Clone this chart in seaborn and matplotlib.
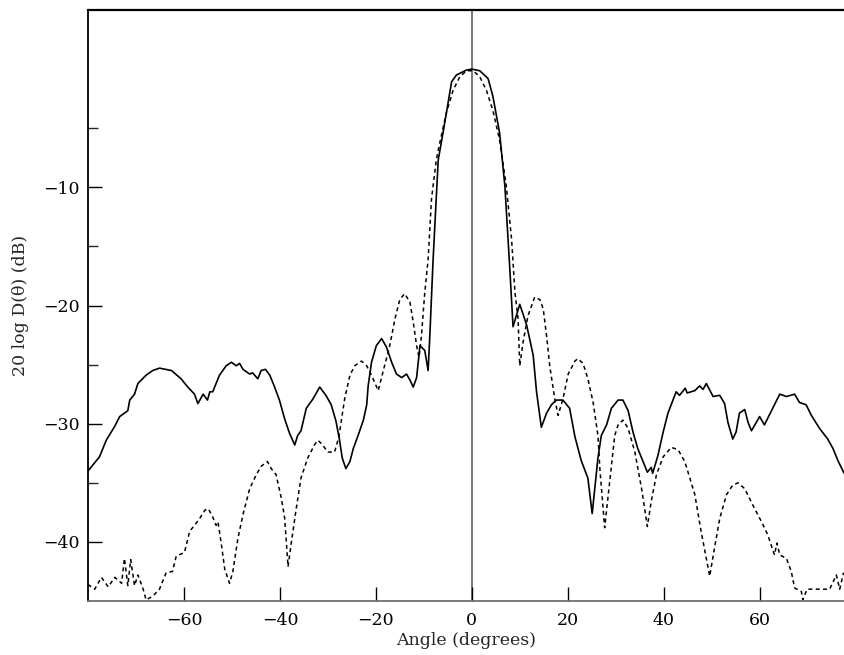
import numpy as np
import pandas as pd
import matplotlib
matplotlib.use('Agg')
import matplotlib.pyplot as plt
import seaborn as sns

# solid curve
solid_angle = [-80, -77.6, -76.2, -74.4, -73.4, -71.7, -71.3, -70.3, -69.6, -67.9, -66.5, -65.1,
               -62.6, -60.6, -59.2, -57.8, -57.1, -56.0, -55.1, -54.6, -54.0, -52.6, -51.2, -50.1,
               -49.1, -48.4, -47.7, -46.3, -45.7, -44.6, -43.9, -43.0, -42.1, -41.1, -40.1, -39.0,
               -38.0, -36.9, -36.3, -35.6, -34.5, -33.1, -31.7, -30.4, -29.3, -28.3, -27.6, -27.0,
               -26.25, -25.4, -24.7, -23.7, -22.6, -21.9, -21.6, -20.9, -19.9, -18.8, -17.8, -16.7,
               -15.7, -14.6, -13.6, -12.9, -12.2, -11.5, -10.8, -9.8, -9.1, -8.75, -8.06, -7.0,
               -6.0, -4.2, -3.2, -1.1, 0, 1.67, 3.4, 4.4, 5.8, 6.9, 7.9, 8.6, 10.0, 11.4, 12.8,
               13.5, 14.5, 15.6, 16.6, 17.6, 19.0, 20.4, 21.5, 22.8, 24.2, 25.1, 26.3, 27.0, 28.1,
               29.1, 30.5, 31.5, 32.6, 33.6, 34.6, 35.7, 36.6, 37.4, 37.7, 38.8, 39.9, 40.9, 42.6,
               43.3, 44.5, 44.9, 46.5, 47.5, 48.2, 48.9, 50.3, 51.7, 52.7, 53.4, 54.4, 55.1, 55.8,
               56.9, 57.6, 58.3, 60.0, 61.0, 63.1, 64.2, 65.6, 67.3, 68.3, 69.7, 70.8, 72.5, 74.2,
               75.3, 76.3, 77.5, 78]
solid_db = [-34.0, -32.8, -31.4, -30.2, -29.4, -28.9, -28.0, -27.5, -26.6, -25.9, -25.5, -25.3,
            -25.5, -26.2, -26.9, -27.5, -28.3, -27.5, -28.0, -27.3, -27.3, -25.9, -25.1, -24.8,
            -25.1, -24.9, -25.4, -25.8, -25.7, -26.2, -25.5, -25.4, -25.9, -26.9, -28.0, -29.6,
            -30.8, -31.8, -31.0, -30.6, -28.7, -27.9, -26.9, -27.6, -28.4, -29.8, -31.3, -32.9,
            -33.8, -33.2, -32.1, -31.0, -29.7, -28.4, -26.8, -24.8, -23.4, -22.8, -23.5, -24.8,
            -25.8, -26.1, -25.8, -26.3, -26.9, -26.1, -23.4, -23.8, -25.5, -22.6, -16.1, -7.7,
            -5.4, -1.07, -0.5, -0.08, 0.0, -0.14, -0.8, -2.3, -5.4, -9.9, -16.7, -21.8, -19.9,
            -21.6, -24.2, -27.3, -30.3, -29.1, -28.4, -28.0, -28.0, -28.7, -31.1, -33.1, -34.6,
            -37.6, -32.9, -31.0, -30.1, -28.7, -28.0, -28.0, -28.9, -30.7, -32.1, -33.2, -34.1,
            -33.7, -34.2, -32.7, -30.7, -29.1, -27.3, -27.6, -27.0, -27.4, -27.2, -26.8, -27.1,
            -26.6, -27.7, -27.6, -28.3, -29.9, -31.3, -30.7, -29.1, -28.8, -29.9, -30.6, -29.4,
            -30.1, -28.4, -27.5, -27.7, -27.5, -28.2, -28.4, -29.3, -30.4, -31.3, -32.1, -33.1,
            -34.1, -34.4]

# dashed curve
dash_angle = [-80, -78.6, -77.2, -75.8, -74.4, -73.0, -72.4, -71.7, -71.1, -70.3, -69.6, -68.5,
              -67.9, -66.5, -65.1, -63.7, -62.4, -61.6, -59.9, -58.8, -57.8, -56.7, -55.6, -54.9,
              -54.0, -53.3, -52.9, -52.2, -51.5, -50.5, -49.8, -48.75, -47.7, -46.3, -44.9, -43.9,
              -42.6, -41.8, -40.8, -39.7, -39.0, -38.3, -37.6, -36.6, -35.6, -34.2, -32.8, -32.1,
              -31.3, -30.0, -28.6, -27.7, -26.9, -26.5, -25.4, -24.4, -23.0, -21.9, -20.9, -19.5,
              -18.5, -17.1, -16.0, -15.0, -14.0, -12.9, -12.2, -11.5, -11.0, -10.5, -9.8, -9.1,
              -8.4, -7.4, -6.7, -5.3, -3.9, -2.5, -1.1, 0.3, 1.67, 3.06, 4.4, 5.8, 7.2, 8.3, 9.0,
              9.65, 10.0, 10.7, 11.7, 13.1, 14.2, 14.9, 15.6, 16.25, 17.3, 18.0, 19.0, 20.1, 21.5,
              22.1, 23.2, 24.2, 25.3, 26.3, 26.7, 27.7, 28.75, 29.8, 30.5, 31.5, 32.6, 34.0, 35.4,
              36.6, 37.4, 38.5, 39.9, 41.6, 43.0, 44.4, 46.5, 47.8, 49.6, 50.6, 51.7, 53.1, 54.4,
              55.5, 56.9, 58.6, 60.4, 61.7, 63.1, 63.6, 64.2, 65.6, 66.6, 67.3, 68.7, 69.0, 69.9,
              72.5, 74.6, 76.0, 76.7, 77.5]
dash_db = [-43.6, -44.0, -43.0, -43.8, -43.0, -43.5, -41.4, -43.7, -41.5, -43.7, -42.8, -44.0,
           -44.9, -44.6, -44.0, -42.6, -42.5, -41.2, -40.9, -39.1, -38.6, -38.0, -37.3, -37.2,
           -37.9, -38.6, -38.3, -40.2, -42.3, -43.5, -42.5, -39.7, -37.7, -35.5, -34.3, -33.6,
           -33.2, -33.8, -34.3, -36.3, -38.0, -42.1, -40.0, -37.2, -34.6, -32.9, -31.8, -31.4,
           -31.7, -32.4, -32.4, -31.1, -29.0, -27.9, -25.9, -25.1, -24.7, -25.1, -25.9, -27.2,
           -25.6, -23.4, -21.1, -19.5, -19.0, -19.7, -21.4, -23.4, -24.4, -22.6, -18.9, -16.1,
           -11.0, -7.7, -6.3, -3.7, -1.8, -0.65, -0.14, -0.14, -0.65, -1.8, -3.5, -6.0, -9.9,
           -14.4, -18.9, -21.1, -25.1, -23.1, -20.9, -19.3, -19.5, -20.3, -22.6, -25.1, -27.9,
           -29.3, -27.9, -25.8, -24.7, -24.5, -24.9, -26.2, -28.2, -31.0, -33.8, -38.8, -34.9,
           -31.0, -30.1, -29.7, -30.4, -32.4, -35.5, -38.7, -36.6, -34.3, -32.8, -32.0, -32.2,
           -33.2, -36.0, -39.1, -42.9, -40.5, -38.0, -36.0, -35.2, -35.0, -35.5, -36.9, -38.3,
           -39.4, -41.1, -40.1, -41.1, -41.4, -42.5, -43.9, -44.2, -44.9, -44.0, -44.0, -44.0,
           -42.8, -44.0, -42.6]

x_ticks = [-60, -40, -20, 0, 20, 40, 60]
y_ticks = [-40, -30, -20, -10]

sns.set_style('ticks')
plt.rcParams['font.family'] = ['DejaVu Serif']
plt.rcParams['mathtext.fontset'] = 'dejavuserif'

fig = plt.figure(figsize=(8.45, 6.55), dpi=100)
ax = fig.add_axes([88/845, 54/655, 757/845, 591/655])

sns.lineplot(x=solid_angle, y=solid_db, ax=ax, color='black', lw=1.2,
             estimator=None, sort=False)
sns.lineplot(x=dash_angle, y=dash_db, ax=ax, color='black', lw=1.1,
             estimator=None, sort=False, linestyle=(0, (2.6, 2.2)))
ax.axvline(0, color='#6e6e6e', lw=1.3, zorder=0)

ax.set_xlim(-80, 77.8)
ax.set_ylim(-45, 5)
ax.set_xticks(x_ticks)
ax.set_yticks(y_ticks)
ax.set_yticks([-35, -25, -15, -5], minor=True)
ax.tick_params(axis='both', which='major', direction='in', length=10, width=1,
               labelsize=12.5, colors='black')
ax.tick_params(axis='y', which='minor', direction='in', length=7, width=1)
ax.tick_params(axis='x', which='major', pad=8)
ax.tick_params(axis='y', which='major', pad=6)

ax.spines['right'].set_visible(False)
ax.spines['top'].set_linewidth(1.6)
ax.spines['left'].set_linewidth(1.3)
ax.spines['bottom'].set_color('#6e6e6e')
ax.spines['bottom'].set_linewidth(1.3)
for s in ['top', 'left']:
    ax.spines[s].set_color('black')

ax.set_xlabel('Angle (degrees)', fontsize=12.5, labelpad=2)
ax.set_ylabel('20 log D(θ) (dB)', fontsize=12.5, labelpad=10)

fig.savefig('out.png', dpi=100)
